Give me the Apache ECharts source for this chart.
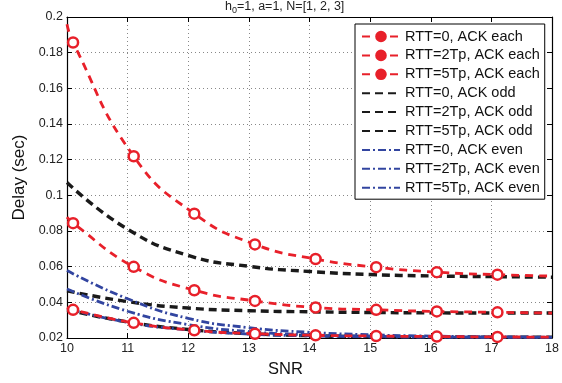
<!DOCTYPE html>
<html>
<head>
<meta charset="utf-8">
<script src="https://cdn.jsdelivr.net/npm/echarts@6/dist/echarts.min.js"></script>
<style>
  html, body { margin: 0; padding: 0; background: #fff; }
  #chart { width: 562px; height: 383px; }
</style>
</head>
<body>
<div id="chart"></div>
<script>
// SNR grid for the plain curves, and the marker positions of the "ACK each" curves
const snr = [10, 11, 12, 13, 14, 15, 16, 17, 18];
const snrEach = [10, 10.1, 11.1, 12.1, 13.1, 14.1, 15.1, 16.1, 17.1, 18];

// ACK each (red, with markers)
const each0 = [0.0372, 0.0358, 0.0285, 0.0243, 0.0224, 0.0215, 0.0211, 0.0208, 0.0206, 0.0205];
const each2 = [0.0878, 0.0844, 0.0599, 0.0468, 0.0408, 0.0371, 0.0358, 0.0349, 0.0344, 0.034];
const each5 = [0.196, 0.1857, 0.1219, 0.0897, 0.0725, 0.0643, 0.0597, 0.0569, 0.0555, 0.0547];

// ACK odd (black dashed)
const odd0 = [0.0358, 0.029, 0.0248, 0.0225, 0.0213, 0.0208, 0.0206, 0.0205, 0.0204];
const odd2 = [0.0465, 0.0404, 0.0368, 0.0353, 0.0347, 0.0343, 0.0341, 0.034, 0.034];
const odd5 = [0.1072, 0.081, 0.0663, 0.0602, 0.0573, 0.0556, 0.0548, 0.0544, 0.0541];

// ACK even (blue dash-dot)
const even0 = [0.0365, 0.0288, 0.0245, 0.0222, 0.0212, 0.0207, 0.0205, 0.0204, 0.0203];
const even2 = [0.0475, 0.035, 0.0275, 0.0236, 0.0218, 0.021, 0.0206, 0.0204, 0.0203];
const even5 = [0.0578, 0.042, 0.031, 0.0258, 0.0232, 0.0218, 0.0211, 0.0207, 0.0205];

const RED = "#e8202a";
const BLACK = "#1a1a1a";
const BLUE = "#3245a0";
const FONT = "Liberation Sans";

const chart = echarts.init(document.getElementById("chart"));

// red curves: markers only at the interior points
function eachSeries(name, ys) {
  return {
    name,
    type: "line",
    smooth: 0.5,
    symbol: "circle",
    symbolSize: 10,
    itemStyle: { color: "#fff", borderColor: RED, borderWidth: 2.5 },
    lineStyle: { color: RED, width: 2.8, type: [8, 6] },
    data: ys.map((y, i) => {
      const p = { value: [snrEach[i], y] };
      if (i === 0 || i === ys.length - 1) p.symbol = "none";
      return p;
    }),
    z: 3,
  };
}

function plainSeries(name, ys, color, dash, width) {
  return {
    name,
    type: "line",
    smooth: 0.5,
    symbol: "none",
    itemStyle: { color },
    lineStyle: { color, width, type: dash },
    data: ys.map((y, i) => [snr[i], y]),
    z: 2,
  };
}

const eachNames = ["RTT=0, ACK each", "RTT=2Tp, ACK each", "RTT=5Tp, ACK each"];
const oddNames = ["RTT=0, ACK odd", "RTT=2Tp, ACK odd", "RTT=5Tp, ACK odd"];
const evenNames = ["RTT=0, ACK even", "RTT=2Tp, ACK even", "RTT=5Tp, ACK even"];

const option = {
  backgroundColor: "#fff",
  animation: false,
  textStyle: { fontFamily: FONT },
  title: {
    text: "{h|h}{s|0}{h|=1, a=1, N=[1, 2, 3]}",
    left: 225,
    top: 0,
    padding: 0,
    textStyle: {
      fontWeight: "normal",
      rich: {
        h: { fontFamily: FONT, fontSize: 12.5, fontWeight: "normal", color: "#222", lineHeight: 14 },
        s: { fontFamily: FONT, fontSize: 9, fontWeight: "normal", color: "#222", lineHeight: 14, padding: [8, 0, 0, 0] },
      },
    },
  },
  legend: {
    orient: "vertical",
    left: 355,
    top: 24,
    padding: [5, 5, 4, 6],
    itemWidth: 38,
    itemHeight: 12,
    itemGap: 3.9,
    backgroundColor: "#fff",
    borderColor: "#000",
    borderWidth: 1,
    textStyle: { fontFamily: FONT, fontSize: 14.5, color: "#111" },
    data: [
      ...eachNames.map((name) => ({ name, itemStyle: { color: RED, borderColor: RED, borderWidth: 2 } })),
      ...oddNames.concat(evenNames).map((name) => ({
        name,
        itemStyle: { color: "rgba(0,0,0,0)", borderColor: "rgba(0,0,0,0)", borderWidth: 0 },
      })),
    ],
  },
  grid: { left: 67, right: 10, top: 17, bottom: 39 },
  xAxis: [
    {
      type: "value",
      min: 10,
      max: 18,
      interval: 1,
      name: "SNR",
      nameLocation: "middle",
      nameGap: 23,
      nameTextStyle: { fontFamily: FONT, fontSize: 16.5, color: "#111", padding: [0, 48, 0, 0] },
      axisLine: { lineStyle: { color: "#000", width: 1.2 } },
      axisTick: { inside: true, length: 5, lineStyle: { color: "#000" } },
      axisLabel: { fontFamily: FONT, fontSize: 12.5, color: "#222", margin: 4 },
      splitLine: { show: true, lineStyle: { color: "#888", type: [1, 3] } },
    },
    {
      type: "value",
      position: "top",
      min: 10,
      max: 18,
      interval: 1,
      axisLine: { show: true, lineStyle: { color: "#000", width: 1.2 } },
      axisTick: { show: true, inside: true, length: 5, lineStyle: { color: "#000" } },
      axisLabel: { show: false },
      splitLine: { show: false },
    },
  ],
  yAxis: [
    {
      type: "value",
      min: 0.02,
      max: 0.2,
      interval: 0.02,
      name: "Delay (sec)",
      nameLocation: "middle",
      nameGap: 34,
      nameTextStyle: { fontFamily: FONT, fontSize: 17, color: "#111" },
      axisLine: { show: true, lineStyle: { color: "#000", width: 1.2 } },
      axisTick: { show: true, inside: true, length: 5, lineStyle: { color: "#000" } },
      axisLabel: { fontFamily: FONT, fontSize: 12.5, color: "#222", margin: 4 },
      splitLine: { show: true, lineStyle: { color: "#888", type: [1, 3] } },
    },
    {
      type: "value",
      position: "right",
      min: 0.02,
      max: 0.2,
      interval: 0.02,
      axisLine: { show: true, lineStyle: { color: "#000", width: 1.2 } },
      axisTick: { show: true, inside: true, length: 5, lineStyle: { color: "#000" } },
      axisLabel: { show: false },
      splitLine: { show: false },
    },
  ],
  series: [
    eachSeries(eachNames[0], each0),
    eachSeries(eachNames[1], each2),
    eachSeries(eachNames[2], each5),
    plainSeries(oddNames[0], odd0, BLACK, [8, 5], 3.4),
    plainSeries(oddNames[1], odd2, BLACK, [8, 5], 3.4),
    plainSeries(oddNames[2], odd5, BLACK, [8, 5], 3.4),
    plainSeries(evenNames[0], even0, BLUE, [8, 3, 2, 3], 2.8),
    plainSeries(evenNames[1], even2, BLUE, [8, 3, 2, 3], 2.8),
    plainSeries(evenNames[2], even5, BLUE, [8, 3, 2, 3], 2.8),
  ],
};

chart.setOption(option);
</script>
</body>
</html>
